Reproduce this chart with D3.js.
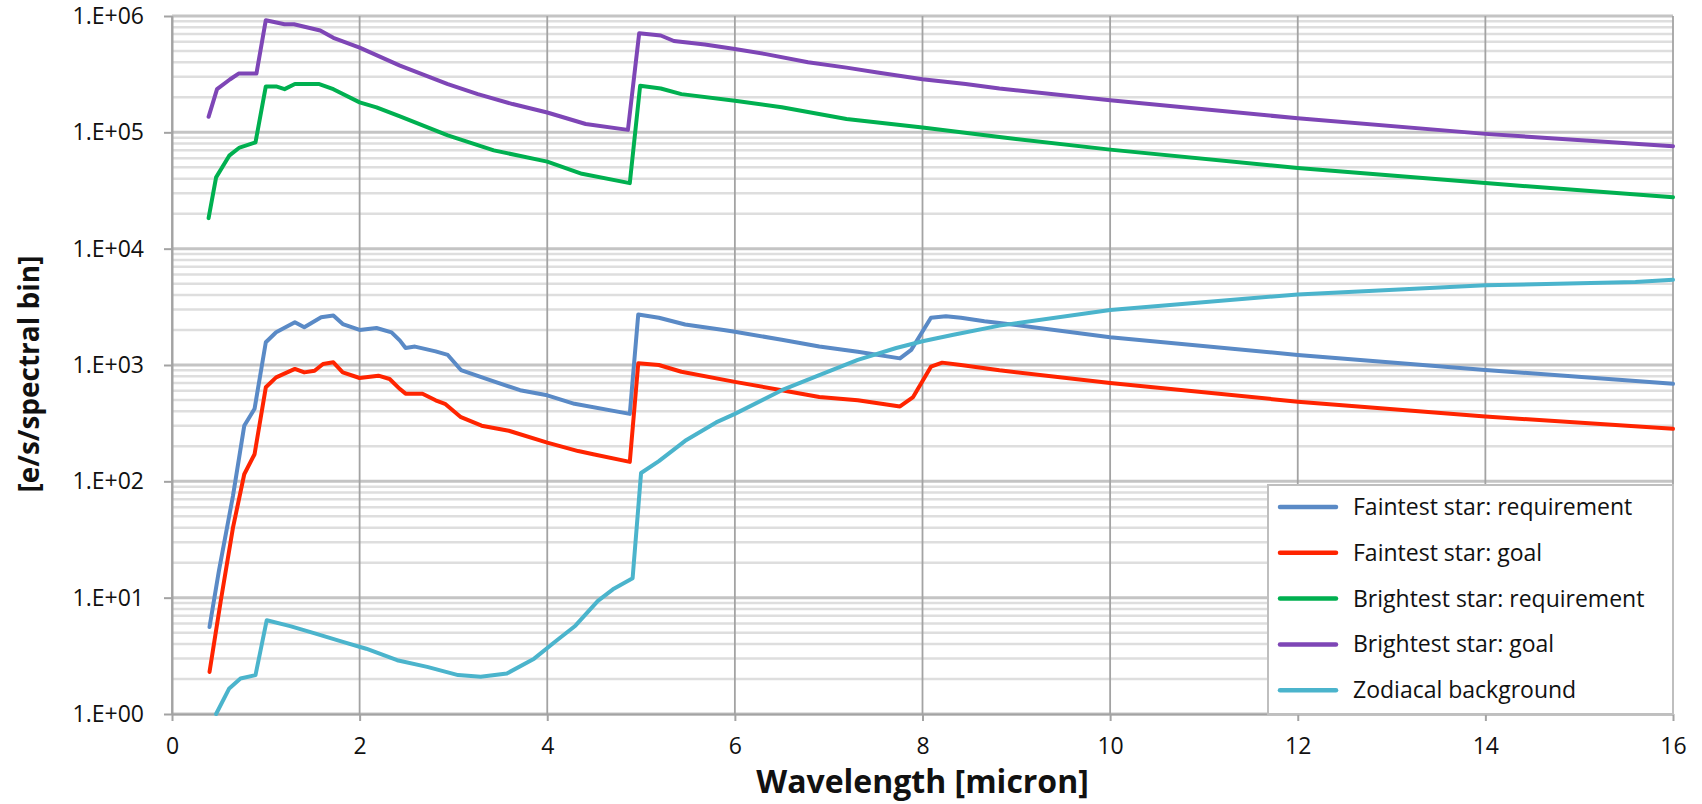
<!DOCTYPE html>
<html>
<head>
<meta charset="utf-8">
<script src="https://cdn.jsdelivr.net/npm/d3@7"></script>
<style>
  body { margin: 0; background: #fff; }
  text { font-family: "Open Sans", Lato, sans-serif; fill: #111; }
  .line { fill: none; stroke-width: 4; stroke-linejoin: round; stroke-linecap: round; }
</style>
</head>
<body>
<svg id="chart"></svg>
<script>
// series: wavelength [micron] and e/s/spectral bin
var seriesNames = ["Faintest star: requirement", "Faintest star: goal", "Brightest star: requirement", "Brightest star: goal", "Zodiacal background"];

var faintReqX = [0.40, 0.50, 0.65, 0.77, 0.88, 1.00, 1.11, 1.31, 1.41, 1.59, 1.72, 1.82, 2.00, 2.18, 2.34, 2.43, 2.49, 2.59, 2.81, 2.94, 3.08, 3.39, 3.71, 4.00, 4.29, 4.88, 4.97, 5.19, 5.47, 5.88, 6.00, 6.50, 6.90, 7.31, 7.76, 7.88, 8.09, 8.25, 8.41, 8.66, 8.82, 10, 12, 14, 16];
var faintReqY = [5.6, 17, 75, 300, 420, 1570, 1910, 2330, 2110, 2570, 2660, 2250, 2000, 2080, 1910, 1620, 1400, 1440, 1310, 1220, 905, 741, 607, 549, 464, 380, 2720, 2550, 2230, 2000, 1930, 1650, 1440, 1300, 1140, 1350, 2550, 2630, 2550, 2380, 2300, 1730, 1220, 907, 690];

var faintGoalX = [0.40, 0.52, 0.65, 0.77, 0.88, 1.00, 1.11, 1.31, 1.41, 1.52, 1.61, 1.72, 1.82, 2.00, 2.20, 2.32, 2.43, 2.49, 2.67, 2.81, 2.91, 3.08, 3.30, 3.59, 4.00, 4.33, 4.49, 4.88, 4.97, 5.19, 5.43, 6.00, 6.50, 6.90, 7.31, 7.76, 7.90, 8.09, 8.21, 8.41, 8.82, 10, 12, 14, 16];
var faintGoalY = [2.3, 9.4, 40, 115, 171, 643, 783, 925, 864, 893, 1020, 1055, 865, 773, 810, 758, 621, 567, 567, 497, 464, 356, 301, 272, 215, 182, 171, 147, 1033, 1000, 875, 716, 607, 530, 497, 440, 530, 968, 1048, 1000, 900, 700, 484, 361, 283];

var brightReqX = [0.39, 0.47, 0.61, 0.72, 0.89, 1.00, 1.11, 1.20, 1.31, 1.57, 1.72, 2.00, 2.18, 2.43, 2.94, 3.43, 4.00, 4.37, 4.88, 4.99, 5.21, 5.43, 6.00, 6.50, 7.19, 8.00, 8.82, 10, 12, 14, 16];
var brightReqY = [18300, 41000, 63000, 74000, 82000, 248000, 248000, 235000, 260000, 260000, 235000, 181000, 164000, 137000, 94000, 70000, 56000, 44000, 36600, 251000, 238000, 213000, 187000, 164000, 130000, 110000, 91000, 71000, 49400, 36600, 27700];

var brightGoalX = [0.39, 0.48, 0.62, 0.71, 0.90, 1.00, 1.20, 1.30, 1.58, 1.72, 2.00, 2.43, 2.94, 3.26, 3.63, 4.00, 4.41, 4.86, 4.98, 5.21, 5.35, 5.68, 6.00, 6.33, 6.78, 7.19, 7.52, 8.00, 8.46, 8.82, 10, 12, 14, 16];
var brightGoalY = [136000, 235000, 286000, 320000, 320000, 920000, 850000, 850000, 750000, 650000, 535000, 375000, 260000, 213000, 175000, 148000, 118000, 105000, 710000, 680000, 610000, 570000, 520000, 470000, 400000, 360000, 327000, 286000, 260000, 238000, 189000, 132000, 97000, 76000];

var zodiX = [0.47, 0.61, 0.73, 0.89, 1.01, 1.26, 1.54, 1.83, 2.07, 2.40, 2.72, 3.05, 3.29, 3.57, 3.86, 4.10, 4.30, 4.54, 4.70, 4.91, 5.00, 5.19, 5.47, 5.80, 6.00, 6.50, 6.90, 7.31, 7.72, 8.00, 8.33, 8.82, 10, 12, 14, 15.6, 16];
var zodiY = [1.0, 1.66, 2.02, 2.16, 6.4, 5.7, 4.88, 4.15, 3.64, 2.9, 2.54, 2.16, 2.09, 2.23, 2.99, 4.28, 5.74, 9.4, 11.8, 14.7, 118, 149, 223, 321, 380, 607, 818, 1105, 1400, 1600, 1820, 2180, 2970, 4040, 4840, 5160, 5400];

var xTicks = [0, 2, 4, 6, 8, 10, 12, 14, 16];
var yTicks = [1, 10, 100, 1000, 10000, 100000, 1000000];
var yTickLabels = ["1.E+00", "1.E+01", "1.E+02", "1.E+03", "1.E+04", "1.E+05", "1.E+06"];

var colors = ["#5a8ac6", "#ff2400", "#00b050", "#7e46b6", "#4bb4cc"];

var seriesX = [faintReqX, faintGoalX, brightReqX, brightGoalX, zodiX];
var seriesY = [faintReqY, faintGoalY, brightReqY, brightGoalY, zodiY];

var series = seriesNames.map(function(name, i) {
    return {
        name: name,
        color: colors[i],
        values: seriesX[i].map(function(x, j) { return {x: x, y: seriesY[i][j]}; })
    };
});

var fullWidth = 1702, fullHeight = 804;
var margin = {top: 16, right: 29, bottom: 90, left: 172};
var width = fullWidth - margin.left - margin.right;
var height = fullHeight - margin.top - margin.bottom;

var root = d3.select('#chart')
    .attr('width', fullWidth)
    .attr('height', fullHeight);

root.append('rect')
    .attr('width', fullWidth)
    .attr('height', fullHeight)
    .attr('fill', '#fff');

var svg = root.append('g')
    .attr('transform', "translate(" + margin.left + "," + margin.top + ")");

var x = d3.scaleLinear().domain([0, 16]).range([0, width]);
var y = d3.scaleLog().domain([1, 1e6]).range([height, 0]);

// minor horizontal grid (2..9 in every decade)
var minor = [];
yTicks.slice(0, -1).forEach(function(d) {
    for (var m = 2; m <= 9; m++) minor.push(d * m);
});

svg.append("g").selectAll("line")
    .data(minor)
    .enter().append("line")
    .attr("x1", 0).attr("x2", width)
    .attr("y1", function(d) { return y(d); })
    .attr("y2", function(d) { return y(d); })
    .attr("stroke", "#dedede")
    .attr("stroke-width", 2.5);

svg.append("g").selectAll("line")
    .data(yTicks)
    .enter().append("line")
    .attr("x1", 0).attr("x2", width)
    .attr("y1", function(d) { return y(d); })
    .attr("y2", function(d) { return y(d); })
    .attr("stroke", "#c4c4c4")
    .attr("stroke-width", 3);

svg.append("g").selectAll("line")
    .data(xTicks)
    .enter().append("line")
    .attr("x1", function(d) { return x(d); })
    .attr("x2", function(d) { return x(d); })
    .attr("y1", 0).attr("y2", height)
    .attr("stroke", "#a3a3a3")
    .attr("stroke-width", 1.8);

// axes
var xAxis = d3.axisBottom(x)
    .tickValues(xTicks)
    .tickSize(7)
    .tickSizeOuter(0)
    .tickPadding(17)
    .tickFormat(d3.format("d"));

var yAxis = d3.axisLeft(y)
    .tickValues(yTicks)
    .tickSize(8)
    .tickSizeOuter(0)
    .tickPadding(20)
    .tickFormat(function(d, i) { return yTickLabels[i]; });

var gx = svg.append("g")
    .attr("class", "x axis")
    .attr("transform", "translate(0," + height + ")")
    .call(xAxis);

var gy = svg.append("g")
    .attr("class", "y axis")
    .call(yAxis);

[gx, gy].forEach(function(g) {
    g.select(".domain").attr("stroke", "#a3a3a3").attr("stroke-width", 2);
    g.selectAll(".tick line").attr("stroke", "#a3a3a3").attr("stroke-width", 2);
    g.selectAll(".tick text")
        .attr("font-family", "'Open Sans', sans-serif")
        .attr("font-size", 23)
        .attr("fill", "#111");
});

// series lines
var valueline = d3.line()
    .x(function(d) { return x(d.x); })
    .y(function(d) { return y(d.y); });

svg.selectAll(".line")
    .data(series)
    .enter()
    .append("path")
    .attr("class", "line")
    .attr("stroke", function(d) { return d.color; })
    .attr("d", function(d) { return valueline(d.values); });

// axis titles
svg.append("text")
    .attr("x", x(8))
    .attr("y", height + 79)
    .attr("text-anchor", "middle")
    .attr("font-size", 32)
    .attr("font-weight", "bold")
    .text("Wavelength [micron]");

svg.append("text")
    .attr("transform", "translate(-133,358) rotate(-90)")
    .attr("text-anchor", "middle")
    .attr("font-size", 28)
    .attr("font-weight", "bold")
    .text("[e/s/spectral bin]");

// legend
var legW = 405, legH = 229;
var legend = svg.append("g")
    .attr("transform", "translate(" + (width - legW) + "," + (height - legH) + ")");

legend.append("rect")
    .attr("width", legW)
    .attr("height", legH)
    .attr("fill", "#fff")
    .attr("stroke", "#bfbfbf")
    .attr("stroke-width", 2);

var rows = legend.selectAll(".row")
    .data(series)
    .enter().append("g")
    .attr("class", "row")
    .attr("transform", function(d, i) { return "translate(0," + (22 + i * 45.8) + ")"; });

rows.append("line")
    .attr("x1", 12).attr("x2", 68)
    .attr("stroke", function(d) { return d.color; })
    .attr("stroke-width", 4.5)
    .attr("stroke-linecap", "round");

rows.append("text")
    .attr("x", 85)
    .attr("dy", "0.35em")
    .attr("font-size", 23)
    .text(function(d) { return d.name; });
</script>
</body>
</html>
